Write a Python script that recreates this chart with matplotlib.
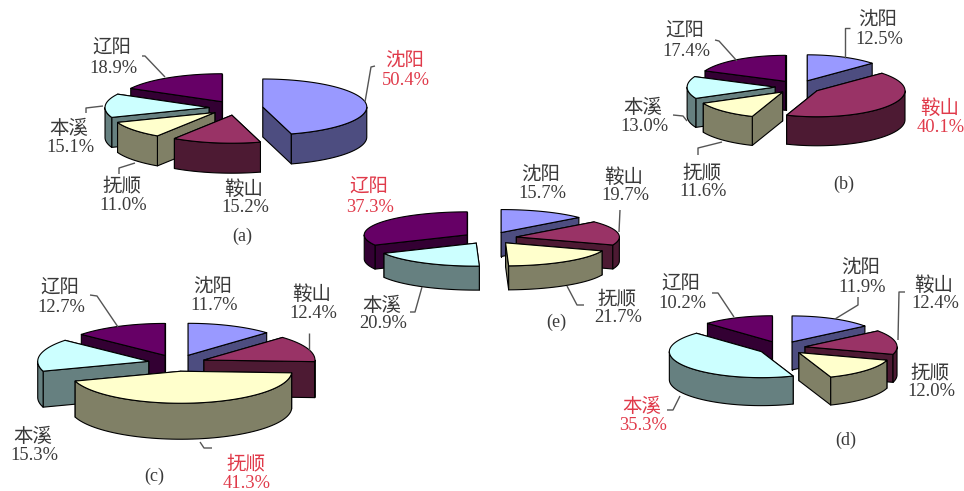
import numpy as np
import matplotlib
matplotlib.use("Agg")
import matplotlib.pyplot as plt
from matplotlib.patches import Polygon

plt.rcParams["font.family"] = ["Liberation Serif", "Noto Sans CJK SC"]

CITIES = ["沈阳", "鞍山", "抚顺", "本溪", "辽阳"]

# percentage share per city for each panel
VALUES_A = [50.4, 15.2, 11.0, 15.1, 18.9]
VALUES_B = [12.5, 40.1, 11.6, 13.0, 17.4]
VALUES_C = [11.7, 12.4, 41.3, 15.3, 12.7]
VALUES_D = [11.9, 12.4, 12.0, 35.3, 10.2]
VALUES_E = [15.7, 19.7, 21.7, 20.9, 37.3]
PANELS = ["(a)", "(b)", "(c)", "(d)", "(e)"]

TOP_COLORS = ["#9999FF", "#993366", "#FFFFCC", "#CCFFFF", "#660066"]
SIDE_COLORS = ["#4D4D80", "#4D1A33", "#808066", "#668080", "#330033"]
TEXT_COLOR = "#3A3A3A"
RED = "#E03A4A"
LEADER = "#555555"
EXPLODE = 0.26

# pie geometry: centre x, centre y, rx, ry, depth (pixels)
PIE_GEOM = [
    (236, 108, 104, 28, 30),
    (798, 87, 88, 26, 29),
    (177, 363, 111, 32, 36),
    (781.5, 348, 92, 26, 28),
    (490, 238, 103, 23, 24),
]
# (x, y) of the city name for every slice, percentage goes underneath
LABEL_POS = [
    [(405, 60), (244, 188), (122, 185), (69, 127), (112, 48)],
    [(878, 19), (940, 107), (702, 172), (643, 106), (685, 31)],
    [(213, 286), (312, 293), (246, 463), (33, 435), (60, 288)],
    [(861, 267), (934, 284), (930, 372), (642, 405), (681, 284)],
    [(541, 174), (624, 176), (617, 298), (382, 304), (369, 187)],
]
PANEL_POS = [(242, 236), (844, 184), (154, 476), (846, 440), (556, 322)]
LEADERS = [
    [[(375, 66), (371, 67), (365, 102)], [(142, 56), (145, 56), (165, 77)],
     [(86, 113), (86, 108), (103, 106)], [(119, 174), (119, 168), (135, 163)]],
    [[(850, 28), (845, 28), (845, 58)], [(715, 40), (719, 41), (737, 61)],
     [(673, 115), (683, 116), (687, 121)], [(698, 155), (698, 148), (722, 142)]],
    [[(90, 295), (97, 296), (118, 327)], [(309, 333), (309, 350)],
     [(212, 448), (204, 448), (200, 442)]],
    [[(712, 293), (718, 293), (734, 317)], [(858, 297), (858, 305), (835, 319)],
     [(905, 292), (899, 292), (898, 340)], [(667, 410), (673, 410), (680, 396)]],
    [[(620, 210), (619, 232)], [(584, 305), (577, 305), (567, 286)],
     [(410, 312), (415, 312), (422, 287)]],
]


def rim(ang, rx, ry):
    a = np.radians(ang)
    return rx * np.sin(a), -ry * np.cos(a)


def draw_pie(ax, values, geom):
    cx, cy, rx, ry, depth = geom
    vals = np.array(values, dtype=float)
    edges = np.concatenate([[0], np.cumsum(vals) / vals.sum() * 360])
    slices = []
    for i in range(len(vals)):
        mid = (edges[i] + edges[i + 1]) / 2
        ox, oy = rim(mid, rx * EXPLODE, ry * EXPLODE)
        slices.append((cy + oy, i, cx + ox, cy + oy))

    # back slices first so the front ones overlap them
    for _, i, ax0, ay0 in sorted(slices):
        a0, a1 = edges[i], edges[i + 1]
        style = dict(edgecolor="black", linewidth=0.8, joinstyle="round")

        # cut faces, the one further back goes first
        faces = sorted([a0, a1], key=lambda a: rim(a, rx, ry)[1])
        for ang in faces:
            dx, dy = rim(ang, rx, ry)
            pts = [(ax0, ay0), (ax0 + dx, ay0 + dy),
                   (ax0 + dx, ay0 + dy + depth), (ax0, ay0 + depth)]
            ax.add_patch(Polygon(pts, closed=True, facecolor=SIDE_COLORS[i], **style))

        # outer wall only on the front half of the rim
        w0, w1 = max(a0, 90), min(a1, 270)
        if w0 < w1:
            t = np.linspace(w0, w1, 60)
            dx, dy = rim(t, rx, ry)
            upper = np.column_stack([ax0 + dx, ay0 + dy])
            lower = np.column_stack([ax0 + dx, ay0 + dy + depth])[::-1]
            ax.add_patch(Polygon(np.vstack([upper, lower]), closed=True,
                                 facecolor=SIDE_COLORS[i], **style))

        t = np.linspace(a0, a1, 80)
        dx, dy = rim(t, rx, ry)
        top = np.vstack([[ax0, ay0], np.column_stack([ax0 + dx, ay0 + dy])])
        ax.add_patch(Polygon(top, closed=True, facecolor=TOP_COLORS[i], **style))


fig = plt.figure(figsize=(9.64, 4.91), dpi=100)
ax = fig.add_axes([0, 0, 1, 1])
ax.set_xlim(0, 964)
ax.set_ylim(491, 0)
ax.axis("off")

all_values = [VALUES_A, VALUES_B, VALUES_C, VALUES_D, VALUES_E]
for p, values in enumerate(all_values):
    for line in LEADERS[p]:
        xs, ys = zip(*line)
        ax.plot(xs, ys, color=LEADER, lw=1.0, solid_capstyle="butt")

    draw_pie(ax, values, PIE_GEOM[p])

    top_share = int(np.argmax(values))
    for i, name in enumerate(CITIES):
        color = RED if i == top_share else TEXT_COLOR
        x, y = LABEL_POS[p][i]
        ax.text(x, y + 1.5, name, color=color, fontsize=14, ha="center", va="center")
        ax.text(x + 1, y + 20, f"{values[i]:.1f}%", color=color, fontsize=13.3,
                ha="center", va="center")
    ax.text(*PANEL_POS[p], PANELS[p], color=TEXT_COLOR, fontsize=13,
            ha="center", va="center")

fig.savefig("out.png", dpi=100, facecolor="white")
plt.close(fig)
